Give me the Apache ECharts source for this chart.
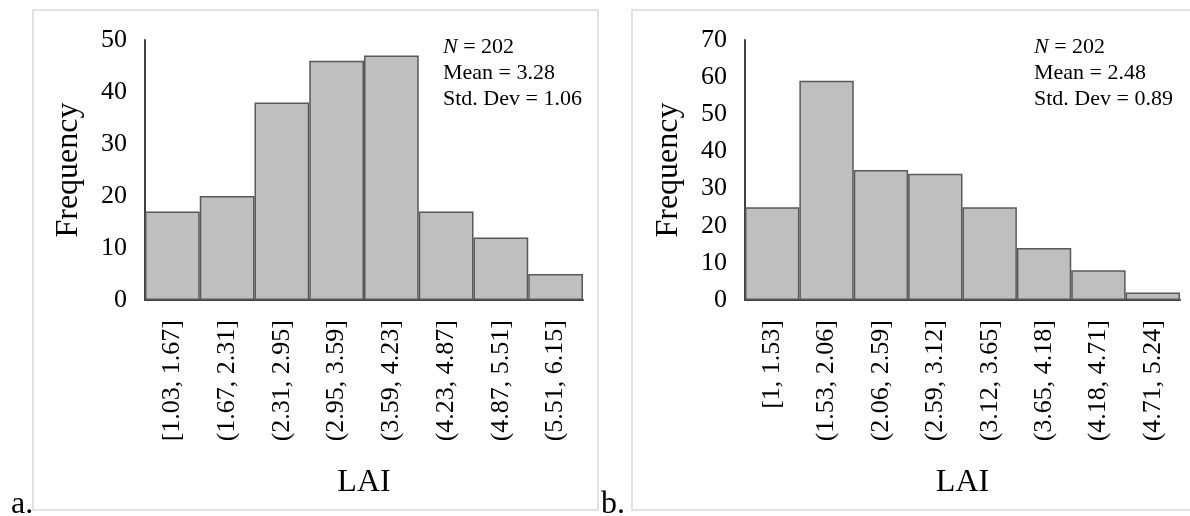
<!DOCTYPE html>
<html>
<head>
<meta charset="utf-8">
<script src="https://cdn.jsdelivr.net/npm/echarts@6/dist/echarts.min.js"></script>
<style>
html,body{margin:0;padding:0;background:#fff;}
#chart{width:1190px;height:516px;}
</style>
</head>
<body>
<div id="chart"></div>
<script>
const categoriesA = ['[1.03, 1.67]','(1.67, 2.31]','(2.31, 2.95]','(2.95, 3.59]','(3.59, 4.23]','(4.23, 4.87]','(4.87, 5.51]','(5.51, 6.15]'];
const valuesA = [17, 20, 38, 46, 47, 17, 12, 5];
const categoriesB = ['[1, 1.53]','(1.53, 2.06]','(2.06, 2.59]','(2.59, 3.12]','(3.12, 3.65]','(3.65, 4.18]','(4.18, 4.71]','(4.71, 5.24]'];
const valuesB = [25, 59, 35, 34, 25, 14, 8, 2];
const statsA = ['202', '3.28', '1.06'];
const statsB = ['202', '2.48', '0.89'];

const FONT = '"Liberation Serif", "Times New Roman", serif';
const chart = echarts.init(document.getElementById('chart'), null, {renderer: 'canvas'});

function xAxis(idx, cats) {
  return {
    type: 'category', gridIndex: idx, data: cats, boundaryGap: true,
    axisLine: {show: true, lineStyle: {color: '#404040', width: 2}},
    axisTick: {show: false},
    axisLabel: {rotate: 90, margin: 20, fontFamily: FONT, fontSize: 26, color: '#000', interval: 0},
    name: 'LAI', nameLocation: 'middle', nameGap: 167,
    nameTextStyle: {fontFamily: FONT, fontSize: 32, color: '#000'}
  };
}
function yAxis(idx, max) {
  return {
    type: 'value', gridIndex: idx, min: 0, max: max, interval: 10,
    axisLine: {show: true, lineStyle: {color: '#404040', width: 2}},
    axisTick: {show: false}, splitLine: {show: false},
    axisLabel: {margin: 18, fontFamily: FONT, fontSize: 26, color: '#000'},
    name: 'Frequency', nameLocation: 'middle', nameGap: 60, nameRotate: 90,
    nameTextStyle: {fontFamily: FONT, fontSize: 32, color: '#000'}
  };
}
function bars(idx, vals) {
  return {
    type: 'bar', xAxisIndex: idx, yAxisIndex: idx, data: vals,
    barCategoryGap: 0, barGap: 0,
    itemStyle: {color: '#bfbfbf', borderColor: '#595959', borderWidth: 1.5},
    silent: true
  };
}
function stats(x, s) {
  const base = {fontFamily: FONT, fontSize: 22, fill: '#000'};
  return [
    {type: 'text', left: x, top: 36, style: Object.assign({text: '{i|N} = ' + s[0], rich: {i: {fontStyle: 'italic', fontFamily: FONT, fontSize: 22}}}, base)},
    {type: 'text', left: x, top: 62, style: Object.assign({text: 'Mean = ' + s[1]}, base)},
    {type: 'text', left: x, top: 88, style: Object.assign({text: 'Std. Dev = ' + s[2]}, base)}
  ];
}

chart.setOption({
  animation: false,
  backgroundColor: '#fff',
  grid: [
    {left: 145, top: 40, width: 438, height: 260},
    {left: 745, top: 40, width: 435, height: 260}
  ],
  xAxis: [xAxis(0, categoriesA), xAxis(1, categoriesB)],
  yAxis: [yAxis(0, 50), yAxis(1, 70)],
  series: [bars(0, valuesA), bars(1, valuesB)],
  graphic: [
    {type: 'rect', shape: {x: 33, y: 10, width: 565, height: 500}, style: {fill: 'none', stroke: '#d9d9d9', lineWidth: 1.5}, z: -1},
    {type: 'rect', shape: {x: 632, y: 10, width: 570, height: 500}, style: {fill: 'none', stroke: '#d9d9d9', lineWidth: 1.5}, z: -1},
    {type: 'text', x: 11, y: 521, style: {text: 'a.', fontFamily: FONT, fontSize: 32, fill: '#000', verticalAlign: 'bottom'}},
    {type: 'text', x: 601, y: 521, style: {text: 'b.', fontFamily: FONT, fontSize: 32, fill: '#000', verticalAlign: 'bottom'}}
  ].concat(stats(443, statsA), stats(1034, statsB))
});
</script>
</body>
</html>
